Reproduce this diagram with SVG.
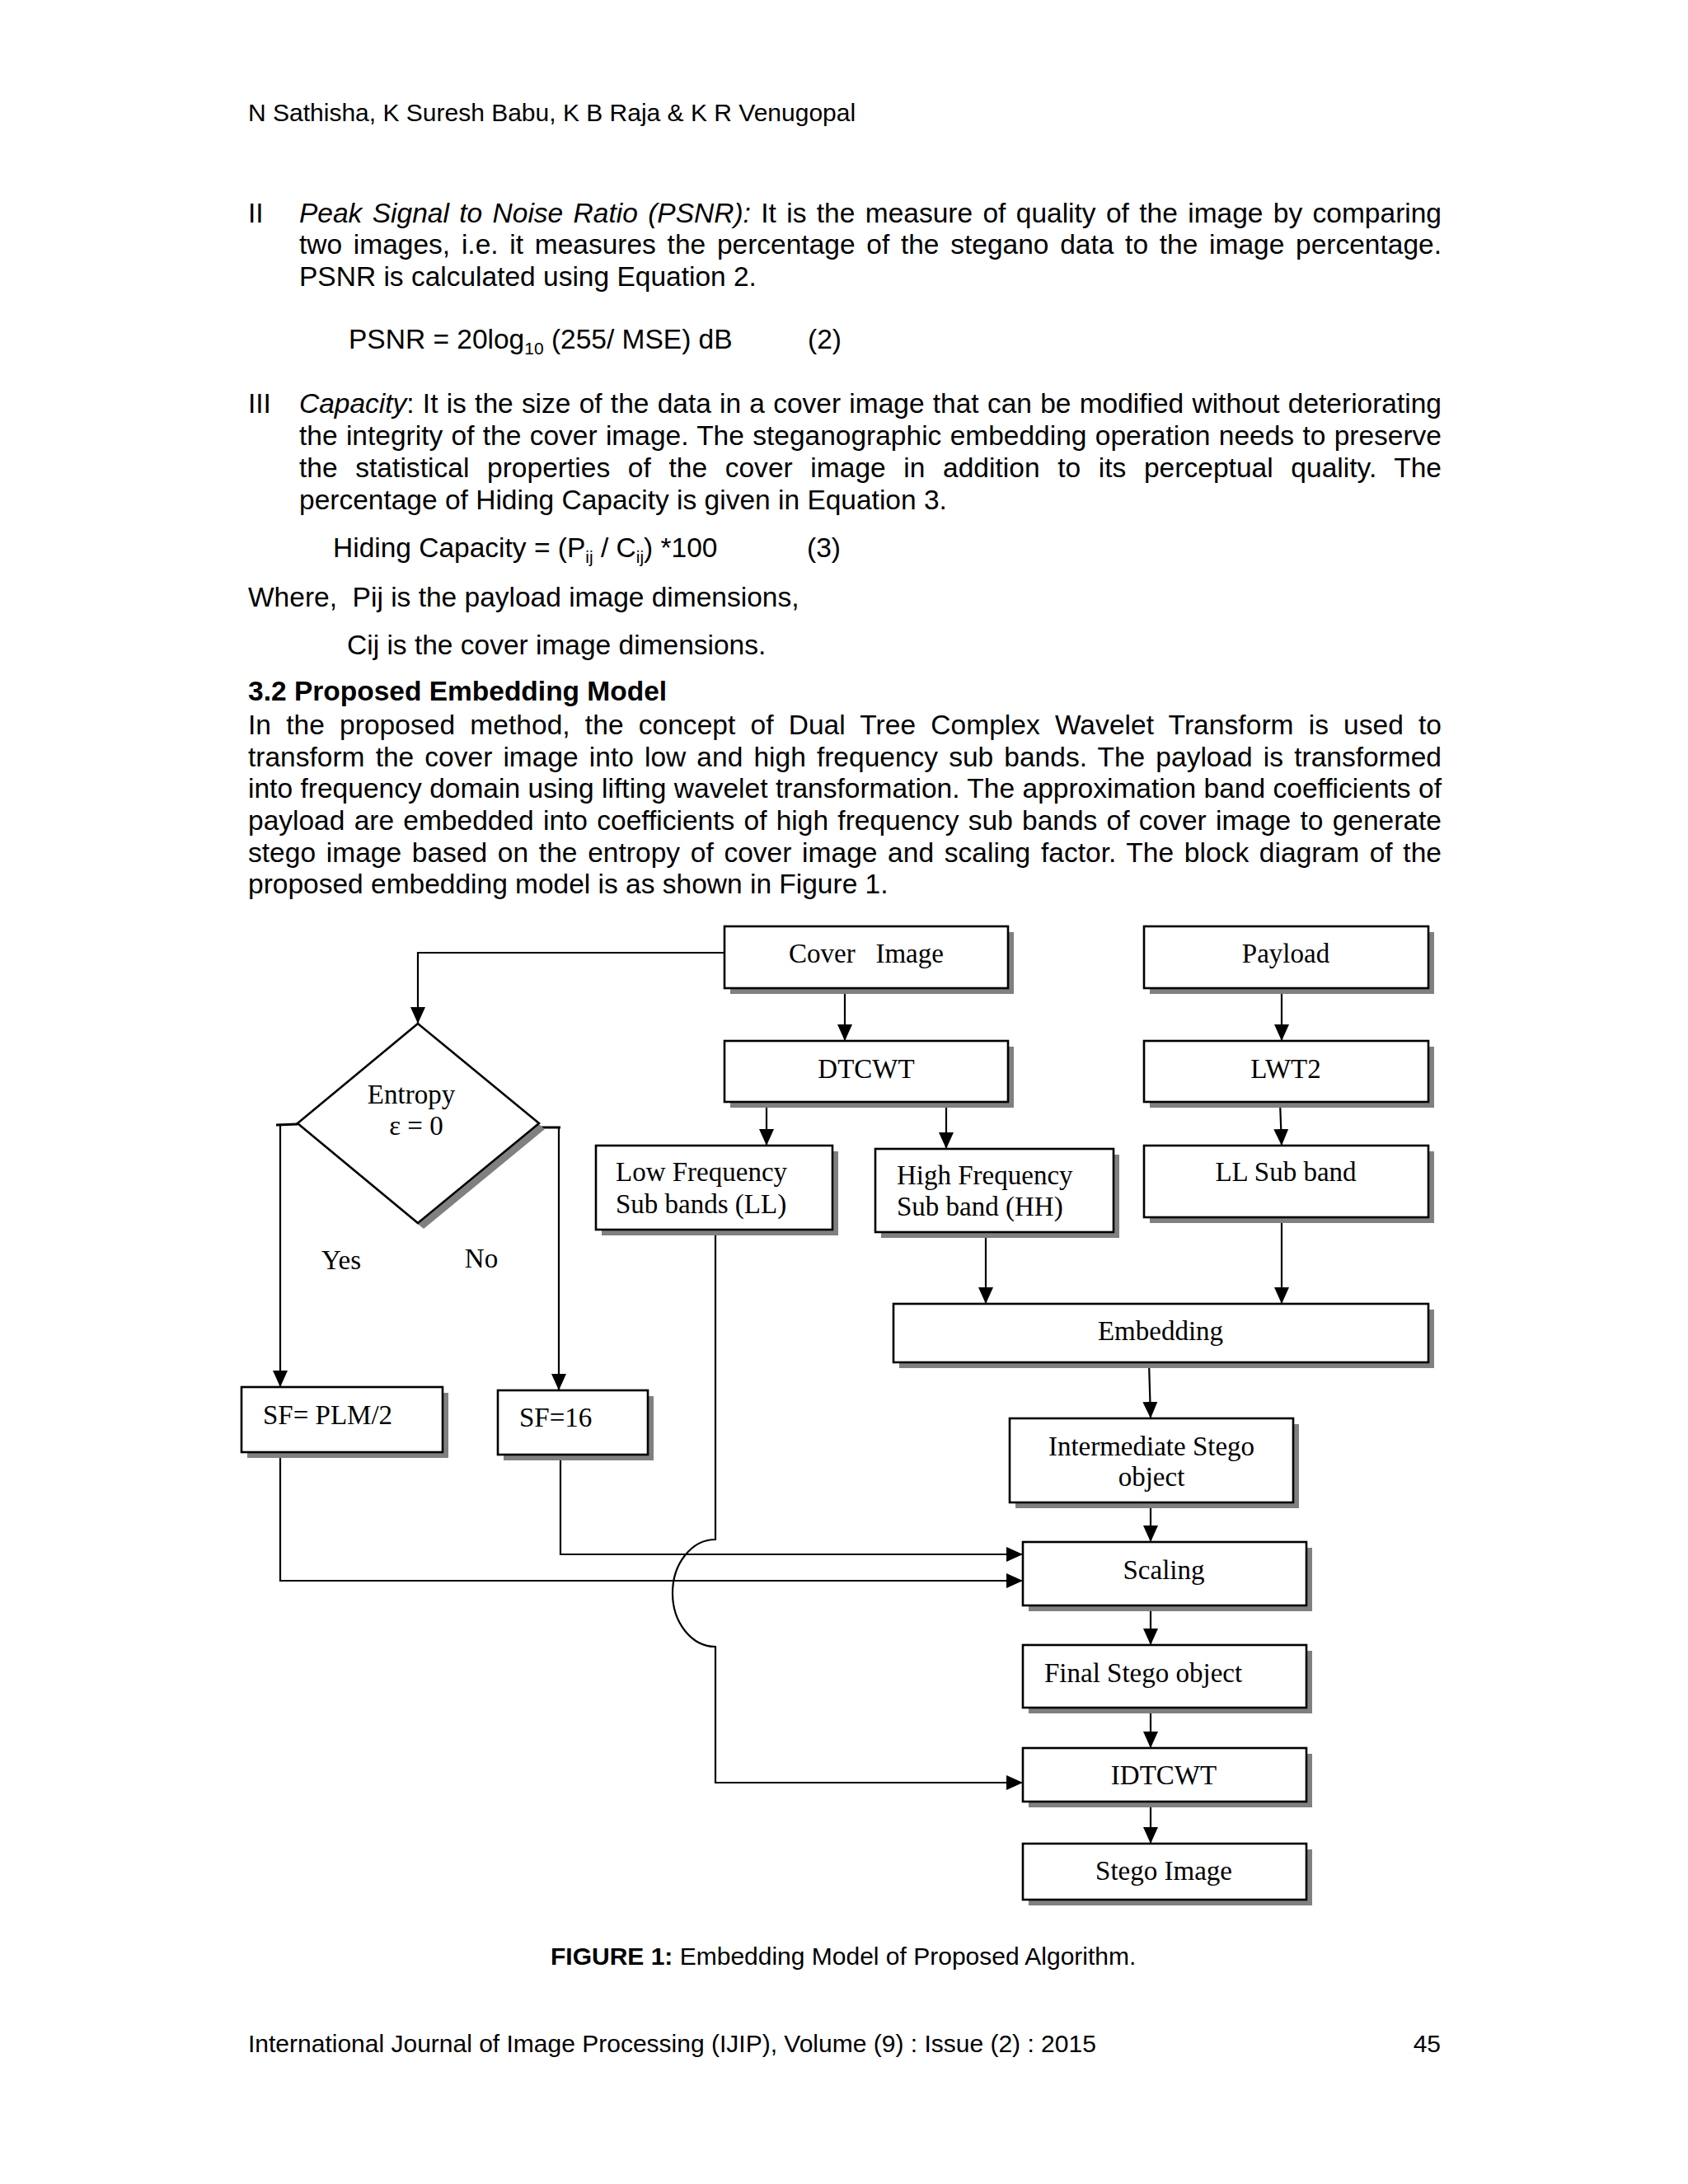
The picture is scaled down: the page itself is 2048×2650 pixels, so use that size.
<svg xmlns="http://www.w3.org/2000/svg" width="2048" height="2650" viewBox="0 0 2048 2650">
<style>
.body{font-family:"Liberation Sans",Arial,sans-serif;font-size:33.5px;fill:#000}
.small{font-family:"Liberation Sans",Arial,sans-serif;font-size:30px;fill:#000}
.it{font-style:italic}
.b{font-weight:bold}
.lbl{font-family:"Liberation Serif","Times New Roman",serif;font-size:33px;fill:#000}
.box{fill:#fff;stroke:#000;stroke-width:2.6}
.sh{fill:#808080}
.con{fill:none;stroke:#000;stroke-width:2.2}
</style>
<defs>
<marker id="ah" viewBox="0 0 20 20" markerWidth="20" markerHeight="20" refX="20" refY="10" orient="auto" markerUnits="userSpaceOnUse">
<path d="M0,1 L20,10 L0,19 z" fill="#000"/>
</marker>
</defs>
<rect width="2048" height="2650" fill="#fff"/>

<g id="page-text">
<text class="small" x="301" y="147">N Sathisha, K Suresh Babu, K B Raja &amp; K R Venugopal</text>

<text class="body" x="301" y="270">II</text>
<text class="body" x="363" y="270" word-spacing="3.07" textLength="1386" lengthAdjust="spacing"><tspan class="it">Peak Signal to Noise Ratio (PSNR):</tspan> It is the measure of quality of the image by comparing</text>
<text class="body" x="363" y="308" word-spacing="4.4" textLength="1386" lengthAdjust="spacing">two images, i.e. it measures the percentage of the stegano data to the image percentage.</text>
<text class="body" x="363" y="347">PSNR is calculated using Equation 2.</text>

<text class="body" x="423" y="423">PSNR = 20log<tspan font-size="21" dy="7">10</tspan><tspan dy="-7"> (255/ MSE) dB</tspan></text>
<text class="body" x="980" y="423">(2)</text>

<text class="body" x="301" y="501">III</text>
<text class="body" x="363" y="501" word-spacing="0.94" textLength="1386" lengthAdjust="spacing"><tspan class="it">Capacity</tspan>: It is the size of the data in a cover image that can be modified without deteriorating</text>
<text class="body" x="363" y="540" word-spacing="1.0" textLength="1386" lengthAdjust="spacing">the integrity of the cover image. The steganographic embedding operation needs to preserve</text>
<text class="body" x="363" y="579" word-spacing="12.2" textLength="1386" lengthAdjust="spacing">the statistical properties of the cover image in addition to its perceptual quality. The</text>
<text class="body" x="363" y="618">percentage of Hiding Capacity is given in Equation 3.</text>

<text class="body" x="404" y="676">Hiding Capacity = (P<tspan font-size="21" dy="7">ij</tspan><tspan dy="-7"> / C</tspan><tspan font-size="21" dy="7">ij</tspan><tspan dy="-7">) *100</tspan></text>
<text class="body" x="979" y="676">(3)</text>

<text class="body" x="301" y="736" xml:space="preserve">Where,  Pij is the payload image dimensions,</text>
<text class="body" x="421" y="794">Cij is the cover image dimensions.</text>

<text class="body b" x="301" y="850">3.2 Proposed Embedding Model</text>
<text class="body" x="301" y="891" word-spacing="8.7" textLength="1448" lengthAdjust="spacing">In the proposed method, the concept of Dual Tree Complex Wavelet Transform is used to</text>
<text class="body" x="301" y="930" word-spacing="3.8" textLength="1448" lengthAdjust="spacing">transform the cover image into low and high frequency sub bands. The payload is transformed</text>
<text class="body" x="301" y="968" word-spacing="0.1" textLength="1448" lengthAdjust="spacing">into frequency domain using lifting wavelet transformation. The approximation band coefficients of</text>
<text class="body" x="301" y="1007" word-spacing="1.94" textLength="1448" lengthAdjust="spacing">payload are embedded into coefficients of high frequency sub bands of cover image to generate</text>
<text class="body" x="301" y="1046" word-spacing="3.33" textLength="1448" lengthAdjust="spacing">stego image based on the entropy of cover image and scaling factor. The block diagram of the</text>
<text class="body" x="301" y="1084">proposed embedding model is as shown in Figure 1.</text>

<text class="small" x="668" y="2384"><tspan class="b">FIGURE 1:</tspan> Embedding Model of Proposed Algorithm.</text>
<text class="small" x="301" y="2490">International Journal of Image Processing (IJIP), Volume (9) : Issue (2) : 2015</text>
<text class="small" x="1748" y="2490" text-anchor="end">45</text>
</g>

<g id="connectors">
<polyline class="con" points="879,1156 507,1156 507,1242" marker-end="url(#ah)"/>
<line class="con" x1="1025" y1="1199" x2="1025" y2="1263" marker-end="url(#ah)"/>
<line class="con" x1="1555" y1="1199" x2="1555" y2="1263" marker-end="url(#ah)"/>
<line class="con" x1="930" y1="1337" x2="930" y2="1390" marker-end="url(#ah)"/>
<line class="con" x1="1148" y1="1337" x2="1148" y2="1394" marker-end="url(#ah)"/>
<line class="con" x1="1553" y1="1337" x2="1555" y2="1390" marker-end="url(#ah)"/>
<line class="con" x1="1196" y1="1495" x2="1196" y2="1582" marker-end="url(#ah)"/>
<line class="con" x1="1555" y1="1477" x2="1555" y2="1582" marker-end="url(#ah)"/>
<line class="con" x1="1394" y1="1653" x2="1396" y2="1721" marker-end="url(#ah)"/>
<line class="con" x1="1396" y1="1823" x2="1396" y2="1871" marker-end="url(#ah)"/>
<line class="con" x1="1396" y1="1948" x2="1396" y2="1996" marker-end="url(#ah)"/>
<line class="con" x1="1396" y1="2072" x2="1396" y2="2121" marker-end="url(#ah)"/>
<line class="con" x1="1396" y1="2186" x2="1396" y2="2237" marker-end="url(#ah)"/>
<polyline class="con" points="335,1365 361,1364" style="stroke-width:3"/>
<polyline class="con" points="654,1368 680,1368" style="stroke-width:3"/>
<line class="con" x1="340" y1="1365" x2="340" y2="1683" marker-end="url(#ah)"/>
<line class="con" x1="678" y1="1368" x2="678" y2="1687" marker-end="url(#ah)"/>
<polyline class="con" points="340,1762 340,1918 1241,1918" marker-end="url(#ah)"/>
<polyline class="con" points="680,1765 680,1886 1241,1886" marker-end="url(#ah)"/>
<path class="con" d="M868,1492 L868,1868 A52,65 0 0 0 868,1998 L868,2163 L1241,2163" marker-end="url(#ah)"/>
</g>

<g id="node-cover">
<rect class="sh" x="886" y="1131" width="344" height="75"/>
<rect class="box" x="879" y="1124" width="344" height="75"/>
<text class="lbl" x="1051" y="1168" text-anchor="middle" xml:space="preserve">Cover   Image</text>
</g>
<g id="node-payload">
<rect class="sh" x="1395" y="1131" width="345" height="75"/>
<rect class="box" x="1388" y="1124" width="345" height="75"/>
<text class="lbl" x="1560" y="1168" text-anchor="middle">Payload</text>
</g>
<g id="node-dtcwt">
<rect class="sh" x="886" y="1270" width="344" height="74"/>
<rect class="box" x="879" y="1263" width="344" height="74"/>
<text class="lbl" x="1051" y="1308" text-anchor="middle">DTCWT</text>
</g>
<g id="node-lwt2">
<rect class="sh" x="1395" y="1270" width="345" height="74"/>
<rect class="box" x="1388" y="1263" width="345" height="74"/>
<text class="lbl" x="1560" y="1308" text-anchor="middle">LWT2</text>
</g>
<g id="node-entropy">
<polygon class="sh" points="514,1249 661,1370 514,1491 368,1370"/>
<polygon class="box" points="507,1242 654,1363 507,1484 361,1363"/>
<text class="lbl" x="499" y="1339" text-anchor="middle">Entropy</text>
<text class="lbl" x="505" y="1377" text-anchor="middle">ε = 0</text>
</g>
<g id="node-lowfreq">
<rect class="sh" x="730" y="1397" width="287" height="102"/>
<rect class="box" x="723" y="1390" width="287" height="102"/>
<text class="lbl" x="747" y="1433">Low Frequency</text>
<text class="lbl" x="747" y="1472">Sub bands (LL)</text>
</g>
<g id="node-highfreq">
<rect class="sh" x="1069" y="1401" width="289" height="101"/>
<rect class="box" x="1062" y="1394" width="289" height="101"/>
<text class="lbl" x="1088" y="1437">High Frequency</text>
<text class="lbl" x="1088" y="1475">Sub band (HH)</text>
</g>
<g id="node-llsub">
<rect class="sh" x="1395" y="1397" width="345" height="87"/>
<rect class="box" x="1388" y="1390" width="345" height="87"/>
<text class="lbl" x="1560" y="1433" text-anchor="middle">LL Sub band</text>
</g>
<g id="label-yes"><text class="lbl" x="414" y="1540" text-anchor="middle">Yes</text></g>
<g id="label-no"><text class="lbl" x="584" y="1538" text-anchor="middle">No</text></g>
<g id="node-embedding">
<rect class="sh" x="1091" y="1589" width="649" height="71"/>
<rect class="box" x="1084" y="1582" width="649" height="71"/>
<text class="lbl" x="1408" y="1626" text-anchor="middle">Embedding</text>
</g>
<g id="node-sfplm">
<rect class="sh" x="300" y="1690" width="244" height="79"/>
<rect class="box" x="293" y="1683" width="244" height="79"/>
<text class="lbl" x="319" y="1728">SF= PLM/2</text>
</g>
<g id="node-sf16">
<rect class="sh" x="611" y="1694" width="182" height="78"/>
<rect class="box" x="604" y="1687" width="182" height="78"/>
<text class="lbl" x="630" y="1731">SF=16</text>
</g>
<g id="node-intermediate">
<rect class="sh" x="1232" y="1728" width="344" height="102"/>
<rect class="box" x="1225" y="1721" width="344" height="102"/>
<text class="lbl" x="1397" y="1766" text-anchor="middle">Intermediate Stego</text>
<text class="lbl" x="1397" y="1803" text-anchor="middle">object</text>
</g>
<g id="node-scaling">
<rect class="sh" x="1248" y="1878" width="344" height="77"/>
<rect class="box" x="1241" y="1871" width="344" height="77"/>
<text class="lbl" x="1412" y="1916" text-anchor="middle">Scaling</text>
</g>
<g id="node-final">
<rect class="sh" x="1248" y="2003" width="344" height="76"/>
<rect class="box" x="1241" y="1996" width="344" height="76"/>
<text class="lbl" x="1267" y="2041">Final Stego object</text>
</g>
<g id="node-idtcwt">
<rect class="sh" x="1248" y="2128" width="344" height="65"/>
<rect class="box" x="1241" y="2121" width="344" height="65"/>
<text class="lbl" x="1412" y="2165" text-anchor="middle">IDTCWT</text>
</g>
<g id="node-stego">
<rect class="sh" x="1248" y="2244" width="344" height="68"/>
<rect class="box" x="1241" y="2237" width="344" height="68"/>
<text class="lbl" x="1412" y="2281" text-anchor="middle">Stego Image</text>
</g>
</svg>
